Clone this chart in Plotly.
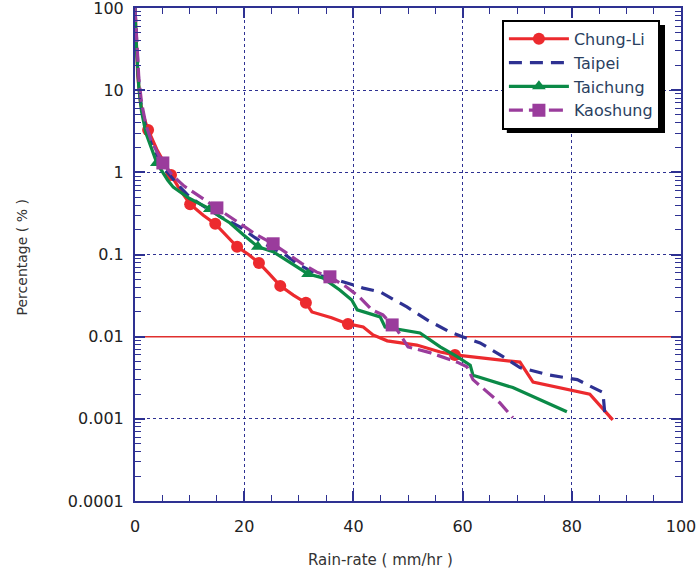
import plotly.graph_objects as go

# ---------------- data ----------------
chungli_x = [0, 0.2, 0.5, 1.0, 1.6, 2.4, 4.0, 6.6, 8.2, 10.1, 12.5, 14.7, 16.8, 18.7, 20.8, 22.7,
             24.6, 26.6, 29.0, 31.3, 32.4, 36.0, 39.0, 41.8, 43.6, 46.2, 51.6, 55.9, 58.6, 70.5,
             72.9, 83.3, 87.5]
chungli_y = [100, 40, 15, 7, 4.7, 3.28, 1.9, 0.93, 0.62, 0.41, 0.30, 0.236, 0.17, 0.124, 0.10, 0.079,
             0.058, 0.0415, 0.032, 0.0258, 0.020, 0.017, 0.0143, 0.0131, 0.0105, 0.0089, 0.0079, 0.0065,
             0.0060, 0.0049, 0.0028, 0.0020, 0.00097]
chungli_mx = [2.4, 6.6, 10.1, 14.7, 18.7, 22.7, 26.6, 31.3, 39.0, 58.6]
chungli_my = [3.28, 0.93, 0.41, 0.236, 0.124, 0.079, 0.0415, 0.0258, 0.0143, 0.0060]

taipei_x = [0, 0.3, 0.7, 1.2, 2, 3, 5, 7.5, 10, 13, 16, 19.2, 22, 25, 27.1, 30, 34, 37, 41.8,
            44.9, 49.8, 53.5, 57.7, 60.1, 63.2, 67.4, 70.5, 76.0, 81.0, 83.9, 85.7, 86.1]
taipei_y = [100, 35, 12, 6, 3.5, 2.2, 1.2, 0.75, 0.5, 0.37, 0.28, 0.217, 0.16, 0.12, 0.104, 0.075,
            0.055, 0.049, 0.039, 0.035, 0.023, 0.016, 0.0114, 0.0099, 0.0084, 0.0057, 0.0042, 0.0034,
            0.0030, 0.0024, 0.0021, 0.00106]

taichung_x = [0, 0.3, 0.7, 1.2, 2, 3, 4.0, 6, 7, 8.2, 10, 12, 13.7, 15.5, 17.4, 20, 22.5, 25.3, 28.4,
              31.7, 34.4, 37.5, 39.7, 40.7, 44.9, 45.8, 52.2, 55.9, 59.0, 61.4, 61.9, 69.2, 79.1]
taichung_y = [100, 30, 11, 5.5, 3.0, 2.0, 1.3, 0.8, 0.66, 0.58, 0.48, 0.41, 0.359, 0.29, 0.242, 0.17,
              0.124, 0.108, 0.079, 0.058, 0.052, 0.037, 0.028, 0.0212, 0.0174, 0.0131, 0.0111, 0.0075,
              0.0057, 0.0045, 0.0034, 0.0024, 0.00122]
taichung_mx = [4.0, 13.7, 22.5, 31.7]
taichung_my = [1.3, 0.359, 0.124, 0.058]

kaoshung_x = [0, 0.3, 0.7, 1.2, 2, 3, 5.1, 7, 9, 10.6, 13, 15.0, 16.8, 19.5, 22.3, 25.3, 27.8, 30.5,
              33.3, 35.7, 38.8, 41.2, 43.4, 45.4, 47.1, 48.0, 50.0, 54.0, 59.0, 60.8, 61.9, 66.8, 69.2]
kaoshung_y = [100, 40, 14, 7, 3.8, 2.4, 1.30, 0.9, 0.68, 0.578, 0.45, 0.369, 0.303, 0.23, 0.173, 0.135,
              0.104, 0.078, 0.061, 0.0535, 0.040, 0.030, 0.0212, 0.0184, 0.0139, 0.0121, 0.0075, 0.0064,
              0.0049, 0.0043, 0.0030, 0.00157, 0.00103]
kaoshung_mx = [5.1, 15.0, 25.3, 35.7, 47.1]
kaoshung_my = [1.30, 0.369, 0.135, 0.0535, 0.0139]

threshold_x = [0, 100]
threshold_y = [0.01, 0.01]

x_ticks = [0, 20, 40, 60, 80, 100]
x_minor_ticks = [5, 10, 15, 25, 30, 35, 45, 50, 55, 65, 70, 75, 85, 90, 95]
y_ticks = [0.0001, 0.001, 0.01, 0.1, 1, 10, 100]
y_ticklabels = ["0.0001", "0.001", "0.01", "0.1", "1", "10", "100"]
y_minor_ticks = [k * 10.0 ** e for e in range(-4, 2) for k in range(2, 10)]

# ---------------- style ----------------
RED = "#ec2a2e"
BLUE = "#2e3192"
GREEN = "#0b8a47"
PURPLE = "#9a3c9c"
NAVY = "#2e3192"
FONT = "DejaVu Sans"

fig = go.Figure()

fig.add_trace(go.Scatter(x=threshold_x, y=threshold_y, mode="lines",
                         line=dict(color="#e0302e", width=1.5), showlegend=False, hoverinfo="skip"))

series = [
    ("Chung-Li", chungli_x, chungli_y, chungli_mx, chungli_my, RED, "solid", "circle", 12),
    ("Taipei", taipei_x, taipei_y, None, None, BLUE, "13px,8px", None, 0),
    ("Taichung", taichung_x, taichung_y, taichung_mx, taichung_my, GREEN, "solid", "triangle-up", 12),
    ("Kaoshung", kaoshung_x, kaoshung_y, kaoshung_mx, kaoshung_my, PURPLE, "14px,6px", "square", 13),
]

for name, xs, ys, mx, my, col, dash, sym, ms in series:
    fig.add_trace(go.Scatter(x=xs, y=ys, mode="lines", name=name, legendgroup=name,
                             line=dict(color=col, width=3.2, dash=dash), showlegend=False))
    if mx is not None:
        fig.add_trace(go.Scatter(x=mx, y=my, mode="markers", legendgroup=name, showlegend=False,
                                 marker=dict(color=col, symbol=sym, size=ms)))

# legend-only entries
for name, xs, ys, mx, my, col, dash, sym, ms in series:
    if sym is None:
        fig.add_trace(go.Scatter(x=[None], y=[None], mode="lines", name=name, legendgroup=name,
                                 line=dict(color=col, width=3.2, dash=dash)))
    else:
        fig.add_trace(go.Scatter(x=[None], y=[None], mode="lines+markers", name=name, legendgroup=name,
                                 line=dict(color=col, width=3.2, dash=dash),
                                 marker=dict(color=col, symbol=sym, size=ms)))

axis_common = dict(
    showline=True, linecolor=NAVY, linewidth=2, mirror="allticks",
    ticks="inside", tickcolor=NAVY, tickwidth=1.5, ticklen=10,
    showgrid=True, gridcolor=NAVY, griddash="dot", gridwidth=1,
    zeroline=False, automargin=False, ticklabeloverflow="allow",
    tickfont=dict(family=FONT, size=16, color="#222222"),
)

fig.update_xaxes(**axis_common, range=[0, 100], tickmode="array", tickvals=x_ticks,
                 ticklabelstandoff=10,
                 minor=dict(ticks="inside", ticklen=6, tickmode="array", tickvals=x_minor_ticks,
                            tickcolor=NAVY, tickwidth=1, showgrid=False))
fig.update_yaxes(**axis_common, type="log", range=[-4, 2], tickmode="array", tickvals=y_ticks,
                 ticktext=y_ticklabels, ticklabelstandoff=6,
                 minor=dict(ticks="inside", ticklen=6, tickmode="array", tickvals=y_minor_ticks,
                            tickcolor=NAVY, tickwidth=1, showgrid=False))

fig.update_layout(
    width=696, height=577,
    margin=dict(l=135, r=15, t=8, b=76),
    plot_bgcolor="white", paper_bgcolor="white",
    legend=dict(x=0.672, y=0.976, xanchor="left", yanchor="top",
                bgcolor="white", bordercolor="black", borderwidth=2,
                font=dict(family=FONT, size=16), itemwidth=60,
                tracegroupgap=0),
    shapes=[dict(type="rect", xref="paper", yref="paper", x0=0.681, x1=0.9707, y0=0.7465, y1=0.9655,
                 fillcolor="black", line=dict(width=0), layer="above")],
    annotations=[
        dict(text="Rain-rate ( mm/hr )", xref="paper", yref="paper", x=0.45, y=-0.12,
             xanchor="center", yanchor="middle", showarrow=False,
             font=dict(family=FONT, size=15, color="#333333")),
        dict(text="Percentage ( % )", xref="paper", yref="paper", x=-0.207, y=0.494,
             xanchor="center", yanchor="middle", showarrow=False, textangle=-90,
             font=dict(family=FONT, size=14, color="#333333")),
    ],
    showlegend=True,
)

fig.write_html("out.html", config={"displayModeBar": False},
               post_script="document.body.style.margin='0';")
